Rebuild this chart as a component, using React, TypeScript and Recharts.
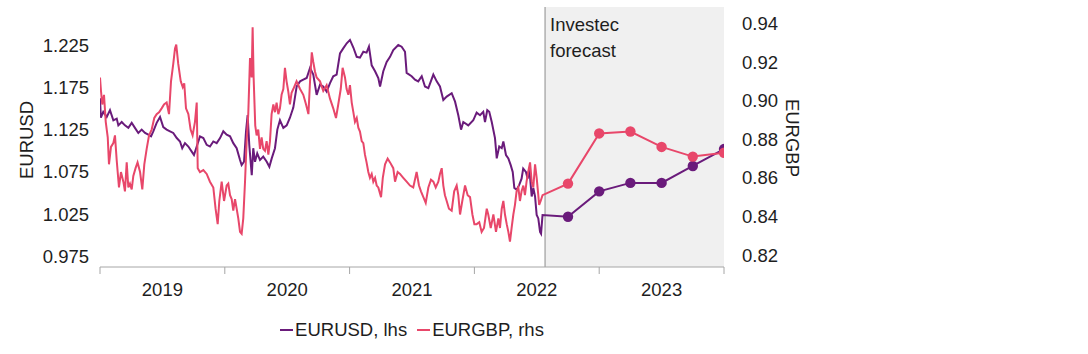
import React from 'react';
import { LineChart, Line, XAxis, YAxis, ReferenceArea, ReferenceLine, Legend } from 'recharts';

const FONT = '"Liberation Sans", Arial, Helvetica, sans-serif';
const PURPLE = '#6a1b7b';
const PINK = '#e8476a';
const TEXT = '#1e1e1e';
const AXIS = '#a6a6a6';

// EURUSD history (decimal year, value)
const usdDates = [
  2019.000, 2019.007, 2019.026, 2019.054, 2019.080, 2019.107, 2019.134, 2019.147, 2019.174, 2019.200,
  2019.227, 2019.254, 2019.280, 2019.307, 2019.334, 2019.361, 2019.387, 2019.409, 2019.427, 2019.454,
  2019.481, 2019.507, 2019.534, 2019.561, 2019.587, 2019.615, 2019.641, 2019.659, 2019.681, 2019.708,
  2019.735, 2019.753, 2019.775, 2019.801, 2019.828, 2019.855, 2019.881, 2019.908, 2019.935, 2019.962,
  2019.988, 2020.015, 2020.042, 2020.068, 2020.095, 2020.122, 2020.135, 2020.154, 2020.170, 2020.183,
  2020.196, 2020.216, 2020.228, 2020.242, 2020.260, 2020.282, 2020.308, 2020.336, 2020.357, 2020.376,
  2020.402, 2020.421, 2020.442, 2020.469, 2020.496, 2020.522, 2020.549, 2020.576, 2020.603, 2020.629,
  2020.656, 2020.683, 2020.709, 2020.736, 2020.763, 2020.789, 2020.816, 2020.843, 2020.869, 2020.896,
  2020.923, 2020.949, 2020.977, 2021.003, 2021.030, 2021.057, 2021.083, 2021.110, 2021.136, 2021.155,
  2021.177, 2021.204, 2021.230, 2021.244, 2021.270, 2021.297, 2021.324, 2021.350, 2021.390, 2021.417,
  2021.444, 2021.457, 2021.497, 2021.524, 2021.550, 2021.578, 2021.604, 2021.631, 2021.671, 2021.698,
  2021.724, 2021.751, 2021.778, 2021.818, 2021.845, 2021.871, 2021.893, 2021.911, 2021.951, 2021.991,
  2022.018, 2022.045, 2022.071, 2022.085, 2022.103, 2022.119, 2022.139, 2022.165, 2022.179, 2022.199,
  2022.219, 2022.232, 2022.253, 2022.272, 2022.291, 2022.307, 2022.320, 2022.339, 2022.360, 2022.378,
  2022.391, 2022.413, 2022.427, 2022.440, 2022.459, 2022.472, 2022.486, 2022.499, 2022.512, 2022.526,
  2022.534, 2022.546,
];
const usdValues = [
  1.162, 1.139, 1.146, 1.140, 1.148, 1.136, 1.138, 1.130, 1.134, 1.130,
  1.127, 1.133, 1.127, 1.121, 1.125, 1.121, 1.119, 1.117, 1.123, 1.133,
  1.140, 1.128, 1.125, 1.123, 1.121, 1.115, 1.111, 1.103, 1.109, 1.105,
  1.099, 1.095, 1.105, 1.117, 1.115, 1.107, 1.105, 1.111, 1.109, 1.115,
  1.123, 1.119, 1.117, 1.109, 1.103, 1.089, 1.083, 1.087, 1.123, 1.142,
  1.107, 1.071, 1.103, 1.087, 1.097, 1.089, 1.093, 1.087, 1.081, 1.091,
  1.103, 1.125, 1.136, 1.127, 1.130, 1.139, 1.151, 1.176, 1.182, 1.184,
  1.186, 1.198, 1.190, 1.166, 1.178, 1.176, 1.170, 1.180, 1.188, 1.190,
  1.215, 1.221, 1.227, 1.231, 1.222, 1.211, 1.210, 1.217, 1.216, 1.223,
  1.201, 1.194, 1.186, 1.176, 1.194, 1.205, 1.211, 1.219, 1.225, 1.223,
  1.217, 1.192, 1.188, 1.184, 1.182, 1.188, 1.176, 1.174, 1.190, 1.182,
  1.176, 1.160, 1.164, 1.168, 1.158, 1.142, 1.125, 1.134, 1.130, 1.136,
  1.145, 1.142, 1.146, 1.134, 1.148, 1.146, 1.134, 1.115, 1.091, 1.105,
  1.103, 1.111, 1.095, 1.091, 1.083, 1.075, 1.056, 1.054, 1.060, 1.067,
  1.079, 1.075, 1.067, 1.079, 1.046, 1.056, 1.046, 1.024, 1.020, 1.004,
  1.002, 1.024,
];

// EURGBP history (decimal year, value)
const gbpDates = [
  2019.000, 2019.008, 2019.018, 2019.032, 2019.046, 2019.062, 2019.072, 2019.088, 2019.107, 2019.120,
  2019.134, 2019.152, 2019.168, 2019.187, 2019.200, 2019.214, 2019.227, 2019.240, 2019.254, 2019.267,
  2019.285, 2019.301, 2019.321, 2019.339, 2019.355, 2019.374, 2019.393, 2019.414, 2019.435, 2019.454,
  2019.473, 2019.494, 2019.513, 2019.534, 2019.553, 2019.569, 2019.587, 2019.601, 2019.611, 2019.627,
  2019.647, 2019.663, 2019.675, 2019.689, 2019.708, 2019.726, 2019.742, 2019.761, 2019.775, 2019.783,
  2019.801, 2019.828, 2019.855, 2019.881, 2019.908, 2019.926, 2019.943, 2019.956, 2019.975, 2019.994,
  2020.015, 2020.028, 2020.042, 2020.055, 2020.068, 2020.082, 2020.095, 2020.108, 2020.122, 2020.135,
  2020.148, 2020.162, 2020.175, 2020.188, 2020.202, 2020.215, 2020.223, 2020.231, 2020.244, 2020.255,
  2020.268, 2020.282, 2020.295, 2020.308, 2020.322, 2020.335, 2020.349, 2020.362, 2020.375, 2020.389,
  2020.402, 2020.415, 2020.429, 2020.442, 2020.455, 2020.469, 2020.482, 2020.495, 2020.508, 2020.522,
  2020.535, 2020.549, 2020.575, 2020.603, 2020.629, 2020.651, 2020.670, 2020.683, 2020.697, 2020.709,
  2020.723, 2020.736, 2020.763, 2020.789, 2020.816, 2020.843, 2020.869, 2020.891, 2020.909, 2020.929,
  2020.944, 2020.963, 2020.976, 2020.990, 2021.003, 2021.017, 2021.030, 2021.043, 2021.057, 2021.070,
  2021.083, 2021.097, 2021.110, 2021.123, 2021.136, 2021.150, 2021.163, 2021.177, 2021.190, 2021.204,
  2021.217, 2021.230, 2021.252, 2021.266, 2021.284, 2021.305, 2021.324, 2021.350, 2021.364, 2021.385,
  2021.404, 2021.430, 2021.457, 2021.484, 2021.510, 2021.537, 2021.556, 2021.572, 2021.591, 2021.610,
  2021.631, 2021.652, 2021.671, 2021.690, 2021.711, 2021.724, 2021.738, 2021.751, 2021.764, 2021.778,
  2021.796, 2021.818, 2021.838, 2021.858, 2021.871, 2021.885, 2021.903, 2021.925, 2021.946, 2021.965,
  2021.984, 2022.000, 2022.018, 2022.039, 2022.058, 2022.077, 2022.099, 2022.111, 2022.131, 2022.152,
  2022.173, 2022.192, 2022.205, 2022.219, 2022.232, 2022.245, 2022.259, 2022.272, 2022.285, 2022.298,
  2022.312, 2022.325, 2022.338, 2022.352, 2022.365, 2022.378, 2022.392, 2022.405, 2022.418, 2022.431,
  2022.446, 2022.459, 2022.472, 2022.486, 2022.499, 2022.512, 2022.519, 2022.531, 2022.546,
];
const gbpValues = [
  0.912, 0.905, 0.898, 0.903, 0.889, 0.881, 0.867, 0.876, 0.878, 0.882,
  0.869, 0.855, 0.863, 0.858, 0.853, 0.868, 0.855, 0.857, 0.854, 0.861,
  0.865, 0.868, 0.863, 0.854, 0.867, 0.875, 0.882, 0.885, 0.891, 0.893,
  0.894, 0.896, 0.898, 0.899, 0.893, 0.910, 0.919, 0.927, 0.929, 0.919,
  0.910, 0.907, 0.909, 0.896, 0.893, 0.885, 0.882, 0.889, 0.899, 0.865,
  0.863, 0.864, 0.862, 0.858, 0.855, 0.844, 0.836, 0.848, 0.858, 0.848,
  0.856, 0.857, 0.851, 0.849, 0.843, 0.849, 0.844, 0.839, 0.832, 0.831,
  0.839, 0.858, 0.879, 0.893, 0.922, 0.912, 0.938, 0.912, 0.887, 0.882,
  0.885, 0.875, 0.881, 0.875, 0.874, 0.879, 0.872, 0.879, 0.893, 0.898,
  0.894, 0.899, 0.893, 0.896, 0.903, 0.906, 0.917, 0.910, 0.905, 0.898,
  0.904, 0.906, 0.910, 0.906, 0.903, 0.898, 0.893, 0.910, 0.925, 0.920,
  0.915, 0.912, 0.910, 0.905, 0.908, 0.901, 0.896, 0.891, 0.898, 0.906,
  0.917, 0.912, 0.906, 0.903, 0.908, 0.899, 0.894, 0.889, 0.891, 0.886,
  0.884, 0.879, 0.878, 0.872, 0.868, 0.863, 0.860, 0.862, 0.858, 0.860,
  0.856, 0.855, 0.850, 0.860, 0.867, 0.870, 0.868, 0.865, 0.858, 0.863,
  0.862, 0.860, 0.858, 0.856, 0.855, 0.863, 0.856, 0.853, 0.850, 0.847,
  0.855, 0.859, 0.858, 0.855, 0.858, 0.862, 0.865, 0.856, 0.851, 0.848,
  0.844, 0.843, 0.853, 0.856, 0.851, 0.841, 0.848, 0.856, 0.851, 0.850,
  0.841, 0.836, 0.836, 0.837, 0.832, 0.834, 0.844, 0.841, 0.834, 0.841,
  0.832, 0.839, 0.834, 0.844, 0.848, 0.841, 0.836, 0.832, 0.827, 0.834,
  0.841, 0.846, 0.853, 0.855, 0.848, 0.853, 0.856, 0.851, 0.858, 0.863,
  0.868, 0.858, 0.855, 0.867, 0.860, 0.851, 0.846, 0.848, 0.851,
];

// Investec quarterly forecasts
const forecastDates = [2022.75, 2023.0, 2023.25, 2023.5, 2023.75, 2024.0];
const usdForecast = [1.022, 1.052, 1.062, 1.062, 1.082, 1.102];
const gbpForecast = [0.857, 0.883, 0.884, 0.876, 0.871, 0.873];

const forecastStart = 2022.566;
const xTicks = [2019, 2019.5, 2020, 2020.5, 2021, 2021.5, 2022, 2022.5, 2023, 2023.5, 2024];
const yearLabels = ['2019', '2020', '2021', '2022', '2023'];
const usdTicks = [0.975, 1.025, 1.075, 1.125, 1.175, 1.225];
const gbpTicks = [0.82, 0.84, 0.86, 0.88, 0.9, 0.92, 0.94];
const seriesNames = ['EURUSD, lhs', 'EURGBP, rhs'];

const usdData = usdDates
  .map((t, i) => ({ t, v: usdValues[i], f: false }))
  .concat(forecastDates.map((t, i) => ({ t, v: usdForecast[i], f: true })));
const gbpData = gbpDates
  .map((t, i) => ({ t, v: gbpValues[i], f: false }))
  .concat(forecastDates.map((t, i) => ({ t, v: gbpForecast[i], f: true })));

const YearTick = (props: any) => {
  const { x, y, payload } = props;
  const v = payload.value as number;
  if (Math.abs(v - Math.round(v)) < 1e-6) {
    return <line x1={x} x2={x} y1={y - 7} y2={y} stroke={AXIS} strokeWidth={1} />;
  }
  const label = yearLabels[Math.floor(v) - 2019];
  return (
    <text x={x} y={y + 21.5} textAnchor="middle" fill={TEXT} fontSize={18.5} fontFamily={FONT}>
      {label}
    </text>
  );
};

const makeDot = (color: string) => (props: any) => {
  const { cx, cy, payload, index } = props;
  if (!payload || !payload.f) return <g key={`d${index}`} />;
  return <circle key={`d${index}`} cx={cx} cy={cy} r={5.2} fill={color} stroke="none" />;
};

const LegendContent = (props: any) => {
  const items = ([...(props.payload || [])] as any[]).sort(
    (a, b) => seriesNames.indexOf(a.value) - seriesNames.indexOf(b.value)
  );
  return (
    <div
      style={{
        display: 'flex',
        justifyContent: 'center',
        alignItems: 'center',
        fontFamily: FONT,
        fontSize: 18.5,
        color: TEXT,
        whiteSpace: 'nowrap',
      }}
    >
      {items.map((p, i) => (
        <span key={i} style={{ display: 'flex', alignItems: 'center', marginRight: i === 0 ? 10 : 0 }}>
          <span style={{ display: 'inline-block', width: 13, height: 2, background: p.color, marginRight: 2 }} />
          <span>{p.value}</span>
        </span>
      ))}
    </div>
  );
};

const ForecastLabel = (props: any) => {
  const vb = props.viewBox || {};
  return (
    <text fontFamily={FONT} fontSize={18.5} fill={TEXT}>
      <tspan x={vb.x + 5} y={vb.y + 23.5}>Investec</tspan>
      <tspan x={vb.x + 5} y={vb.y + 50}>forecast</tspan>
    </text>
  );
};

const LeftAxisLabel = (props: any) => {
  const vb = props.viewBox || {};
  const cx = 26;
  const cy = vb.y + vb.height / 2 + 3;
  return (
    <text
      x={cx}
      y={cy}
      transform={`rotate(-90, ${cx}, ${cy})`}
      textAnchor="middle"
      dominantBaseline="central"
      fontFamily={FONT}
      fontSize={18.5}
      fill={TEXT}
    >
      EURUSD
    </text>
  );
};

const RightAxisLabel = (props: any) => {
  const vb = props.viewBox || {};
  const cx = 792;
  const cy = vb.y + vb.height / 2 + 1;
  return (
    <text
      x={cx}
      y={cy}
      transform={`rotate(90, ${cx}, ${cy})`}
      textAnchor="middle"
      dominantBaseline="central"
      fontFamily={FONT}
      fontSize={18.5}
      fill={TEXT}
    >
      EURGBP
    </text>
  );
};

export default function App() {
  return (
    <div style={{ position: 'absolute', left: 0, top: 0, width: 1088, height: 354, background: '#fff' }}>
      <LineChart width={1088} height={354} margin={{ top: 7, right: 274, bottom: 47, left: 0 }}>
        <XAxis
          dataKey="t"
          type="number"
          domain={[2019, 2024]}
          allowDataOverflow
          ticks={xTicks}
          interval={0}
          tick={<YearTick />}
          tickLine={false}
          tickSize={7}
          tickMargin={0}
          height={40}
          axisLine={{ stroke: AXIS, strokeWidth: 1 }}
        />
        <YAxis
          yAxisId="l"
          orientation="left"
          type="number"
          domain={[0.9626, 1.2699]}
          allowDataOverflow
          ticks={usdTicks}
          interval={0}
          tickFormatter={(v: number) => v.toFixed(3)}
          tick={{ fill: TEXT, fontSize: 18.5, fontFamily: FONT }}
          tickLine={false}
          axisLine={false}
          tickSize={0}
          tickMargin={11}
          width={100}
          label={<LeftAxisLabel />}
        />
        <YAxis
          yAxisId="r"
          orientation="right"
          type="number"
          domain={[0.8138, 0.9485]}
          allowDataOverflow
          ticks={gbpTicks}
          interval={0}
          tickFormatter={(v: number) => v.toFixed(2)}
          tick={{ fill: TEXT, fontSize: 18.5, fontFamily: FONT, textAnchor: 'start' }}
          tickLine={false}
          axisLine={false}
          tickSize={0}
          tickMargin={18}
          width={90}
          label={<RightAxisLabel />}
        />
        <ReferenceArea
          yAxisId="l"
          x1={forecastStart}
          x2={2024}
          fill="#f0f0f0"
          fillOpacity={1}
          stroke="none"
          label={<ForecastLabel />}
        />
        <ReferenceLine yAxisId="l" x={forecastStart} stroke="#8c8c8c" strokeWidth={1} />
        <Legend
          layout="horizontal"
          verticalAlign="middle"
          align="center"
          content={<LegendContent />}
          wrapperStyle={{ top: 319, left: 100, width: 624, height: 22 }}
        />
        <Line
          yAxisId="l"
          data={usdData}
          dataKey="v"
          name={seriesNames[0]}
          type="linear"
          stroke={PURPLE}
          strokeWidth={2}
          dot={makeDot(PURPLE)}
          activeDot={false}
          isAnimationActive={false}
        />
        <Line
          yAxisId="r"
          data={gbpData}
          dataKey="v"
          name={seriesNames[1]}
          type="linear"
          stroke={PINK}
          strokeWidth={2}
          dot={makeDot(PINK)}
          activeDot={false}
          isAnimationActive={false}
        />
      </LineChart>
    </div>
  );
}
